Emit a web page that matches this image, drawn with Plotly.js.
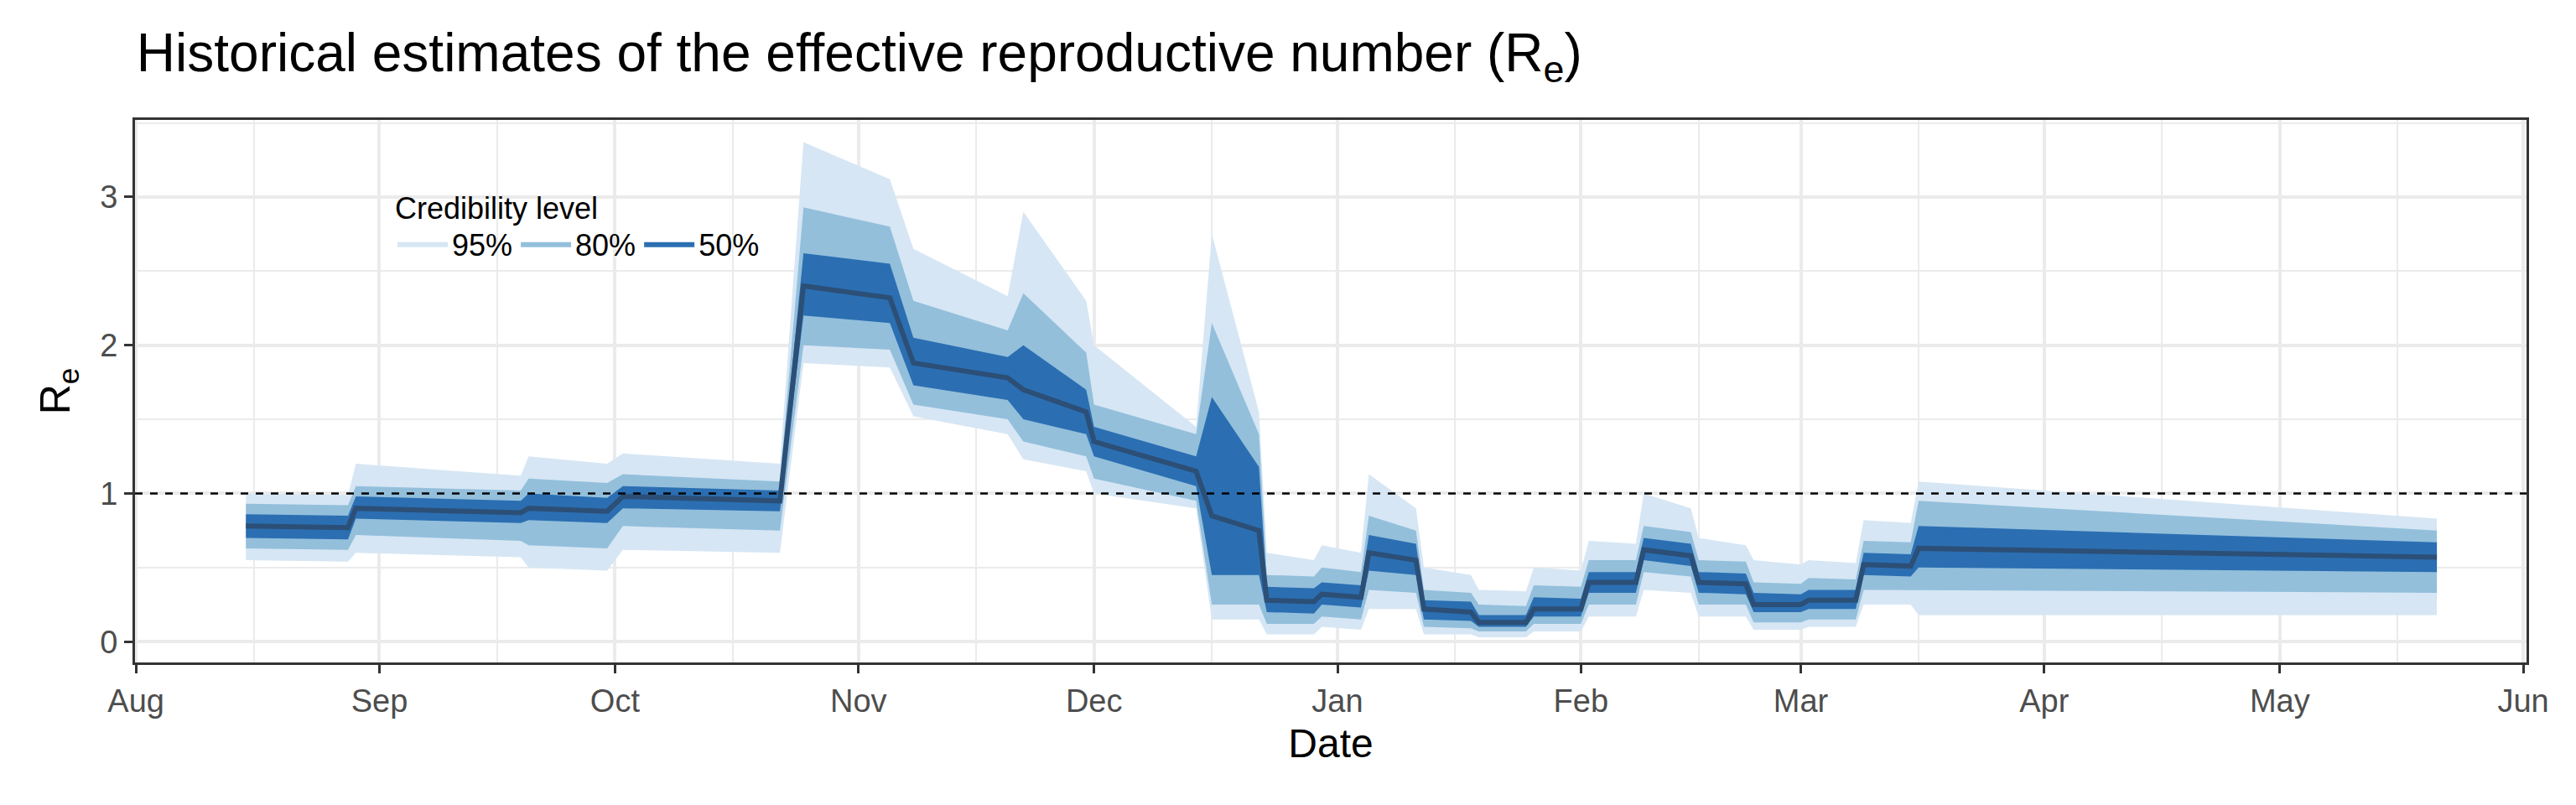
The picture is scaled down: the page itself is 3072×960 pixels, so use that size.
<!DOCTYPE html>
<html><head><meta charset="utf-8">
<script src="https://cdn.plot.ly/plotly-3.0.1.min.js"></script>
<style>body{margin:0}</style></head><body>
<div id="g" style="width:3072px;height:960px"></div>
<script>
const dates = ['2020-08-15','2020-08-28','2020-08-29','2020-09-19','2020-09-20','2020-09-30','2020-10-02','2020-10-22','2020-10-25','2020-11-05','2020-11-08','2020-11-20','2020-11-22','2020-11-30','2020-12-01','2020-12-14','2020-12-16','2020-12-22','2020-12-23','2020-12-29','2020-12-30','2021-01-04','2021-01-05','2021-01-11','2021-01-12','2021-01-18','2021-01-19','2021-01-25','2021-01-26','2021-02-01','2021-02-02','2021-02-08','2021-02-09','2021-02-15','2021-02-16','2021-02-22','2021-02-23','2021-03-01','2021-03-02','2021-03-08','2021-03-09','2021-03-15','2021-03-16','2021-05-21'];
const median = [0.78,0.77,0.90,0.87,0.90,0.88,0.98,0.95,2.40,2.32,1.88,1.78,1.70,1.55,1.35,1.15,0.85,0.75,0.28,0.27,0.32,0.30,0.60,0.55,0.22,0.20,0.13,0.13,0.22,0.22,0.40,0.40,0.62,0.58,0.40,0.39,0.25,0.25,0.28,0.28,0.52,0.51,0.63,0.57];
const lo50 = [0.70,0.69,0.83,0.80,0.82,0.80,0.90,0.88,2.20,2.15,1.73,1.63,1.50,1.40,1.25,1.05,0.45,0.45,0.20,0.19,0.25,0.23,0.48,0.45,0.15,0.14,0.10,0.10,0.17,0.17,0.33,0.33,0.55,0.51,0.33,0.32,0.20,0.20,0.22,0.22,0.45,0.44,0.50,0.47];
const hi50 = [0.86,0.85,0.98,0.95,1.00,0.97,1.05,1.02,2.62,2.55,2.05,1.92,2.00,1.70,1.45,1.25,1.65,1.18,0.37,0.36,0.40,0.38,0.72,0.66,0.28,0.27,0.18,0.18,0.30,0.29,0.47,0.47,0.70,0.66,0.47,0.46,0.33,0.32,0.35,0.35,0.60,0.59,0.78,0.67];
const lo80 = [0.63,0.62,0.72,0.68,0.65,0.63,0.78,0.75,2.00,1.97,1.60,1.50,1.35,1.25,1.10,0.95,0.25,0.25,0.12,0.12,0.17,0.15,0.35,0.33,0.10,0.09,0.07,0.07,0.12,0.12,0.25,0.25,0.47,0.44,0.25,0.25,0.13,0.13,0.15,0.15,0.35,0.35,0.35,0.33];
const hi80 = [0.93,0.92,1.05,1.02,1.10,1.07,1.13,1.08,2.93,2.80,2.30,2.10,2.35,1.95,1.60,1.40,2.15,1.40,0.45,0.44,0.50,0.47,0.85,0.75,0.35,0.33,0.25,0.24,0.38,0.37,0.55,0.55,0.78,0.74,0.55,0.54,0.40,0.39,0.43,0.42,0.68,0.67,0.95,0.75];
const lo95 = [0.55,0.54,0.60,0.57,0.50,0.48,0.62,0.60,1.88,1.85,1.52,1.40,1.23,1.15,1.00,0.90,0.15,0.15,0.05,0.05,0.10,0.08,0.22,0.22,0.05,0.05,0.03,0.03,0.07,0.07,0.17,0.17,0.35,0.33,0.17,0.17,0.08,0.08,0.10,0.10,0.25,0.25,0.18,0.18];
const hi95 = [1.00,0.99,1.20,1.12,1.25,1.20,1.27,1.20,3.37,3.12,2.65,2.33,2.90,2.30,2.00,1.45,2.75,1.55,0.60,0.55,0.65,0.60,1.13,0.90,0.50,0.45,0.35,0.34,0.50,0.48,0.68,0.66,1.00,0.90,0.70,0.65,0.55,0.52,0.55,0.53,0.82,0.80,1.08,0.83];
const levels = ['95%','80%','50%'];

const bands = [[lo95,hi95,'#d6e6f4'],[lo80,hi80,'#93bfdb'],[lo50,hi50,'#2b6fb2']];
const traces = bands.map(([lo,hi,col],i)=>({
  x:dates.concat(dates.slice().reverse()),
  y:hi.concat(lo.slice().reverse()),
  type:'scatter',mode:'lines',line:{width:0,color:col},fill:'toself',fillcolor:col,name:levels[i]
}));
traces.push({x:dates,y:median,type:'scatter',mode:'lines',line:{color:'#2c4f77',width:6},showlegend:false});

const F='Liberation Sans, Arial, sans-serif';
Plotly.newPlot('g',traces,{
  width:3072,height:960,
  margin:{l:161,r:59,t:143,b:170},
  paper_bgcolor:'white',plot_bgcolor:'white',
  font:{family:F,color:'#000'},
  title:{text:'Historical estimates of the effective reproductive number (R<sub>e</sub>)',x:0.053,xanchor:'left',y:0.935,yanchor:'middle',font:{size:64,family:F}},
  xaxis:{type:'date',range:['2020-07-31 21:00','2021-06-01 10:00'],dtick:'M1',tick0:'2020-09-01',tickformat:'%b',
    ticks:'outside',ticklen:10,tickwidth:3,tickcolor:'#333',tickfont:{size:38,color:'#4d4d4d'},
    showgrid:true,gridcolor:'#ebebeb',gridwidth:4,showline:true,mirror:true,linecolor:'#333',linewidth:3,zeroline:false,
    minor:{dtick:'M1',tick0:'2020-08-16',showgrid:true,gridcolor:'#ebebeb',gridwidth:2},
    title:{text:'Date',font:{size:48},standoff:14}},
  yaxis:{range:[-0.14,3.52],dtick:1,ticks:'outside',ticklen:10,tickwidth:3,tickcolor:'#333',tickfont:{size:38,color:'#4d4d4d'},
    showgrid:true,gridcolor:'#ebebeb',gridwidth:4,showline:true,mirror:true,linecolor:'#333',linewidth:3,zeroline:false,
    minor:{dtick:0.5,showgrid:true,gridcolor:'#ebebeb',gridwidth:2},
    title:{text:'R<sub>e</sub>',font:{size:50},standoff:20}},
  shapes:[{type:'line',xref:'paper',x0:0,x1:1,yref:'y',y0:1,y1:1,line:{color:'#000',width:2.5,dash:'dash'}}],
  legend:{orientation:'h',x:0.108,y:0.89,xanchor:'left',yanchor:'top',bgcolor:'rgba(0,0,0,0)',
    title:{text:'Credibility level',side:'top',font:{size:36}},font:{size:36},itemwidth:60,traceorder:'normal'}
},{staticPlot:true});
</script></body></html>
